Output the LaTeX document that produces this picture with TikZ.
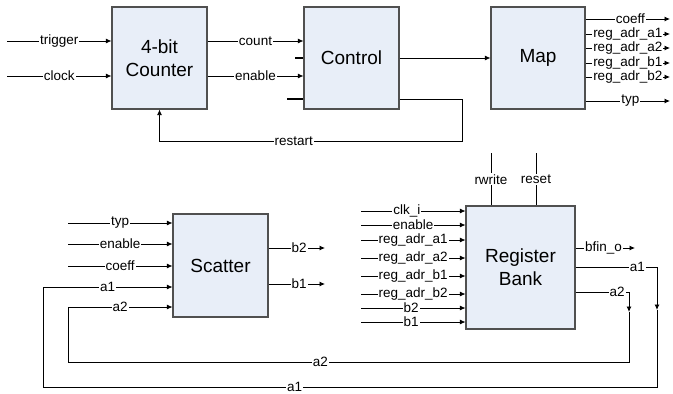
\documentclass[tikz,border=0pt]{standalone}
\usepackage{fontspec}
\setmainfont{Liberation Sans}
\usetikzlibrary{arrows.meta}

\tikzset{
  blocco/.style={draw={rgb,255:red,80;green,80;blue,80}, line width=1.1pt,
    fill={rgb,255:red,232;green,238;blue,248}, align=center, inner sep=0pt,
    font=\fontsize{19}{23}\selectfont},
  filo/.style={line width=0.8pt},
  sig/.style={filo, -{Latex[length=5.5pt,width=5pt]}},
  lbl/.style={fill=white, inner xsep=1pt, inner ysep=0pt,
    font=\fontsize{13.5}{14}\selectfont},
  stub/.style={line width=1.6pt}
}

\begin{document}
\begin{tikzpicture}[x=1pt,y=-1pt]

  \useasboundingbox (0,0) rectangle (673,394);

  % --- blocchi ---
  \node[blocco, minimum width=95pt, minimum height=102pt] (cnt) at (159.5,58) {4-bit\\Counter};
  \node[blocco, minimum width=95pt, minimum height=102pt] (ctl) at (351.5,58) {Control};
  \node[blocco, minimum width=94pt, minimum height=102pt] (map) at (538,58) {Map};
  \node[blocco, minimum width=95pt, minimum height=103pt] (sct) at (220.5,265.5) {Scatter};
  \node[blocco, minimum width=109pt, minimum height=123pt] (reg) at (520.5,267.5) {Register\\Bank};

  % --- counter ---
  \coordinate (trig) at (7,41);
  \coordinate (clk) at (7,76);
  \draw[sig] (trig) -- node[lbl]{trigger} (trig -| cnt.west);
  \draw[sig] (clk) -- node[lbl]{clock} (clk -| cnt.west);
  \draw[sig] (trig -| cnt.east) -- node[lbl]{count} (trig -| ctl.west);
  \draw[sig] (clk -| cnt.east) -- node[lbl]{enable} (clk -| ctl.west);

  % --- control ---
  \coordinate (st1) at (295,58);
  \coordinate (st2) at (287,99);
  \coordinate (rs) at (462,141);
  \draw[stub] (st1) -- (st1 -| ctl.west);
  \draw[stub] (st2) -- (st2 -| ctl.west);
  \draw[sig] (ctl.east) -- (map.west);
  \draw[sig] (st2 -| ctl.east) -| (rs) -- node[lbl,pos=0.556]{restart} (rs -| cnt.south) -- (cnt.south);

  % --- map ---
  \coordinate (mcoef) at (670,19);
  \coordinate (ma1) at (670,34);
  \coordinate (ma2) at (670,48);
  \coordinate (mb1) at (670,63);
  \coordinate (mb2) at (670,77);
  \coordinate (mtyp) at (670,101);
  \draw[sig] (mcoef -| map.east) -- node[lbl,pos=0.53]{coeff} (mcoef);
  \draw[sig] (ma1 -| map.east) -- node[lbl]{reg\_adr\_a1} (ma1);
  \draw[sig] (ma2 -| map.east) -- node[lbl]{reg\_adr\_a2} (ma2);
  \draw[sig] (mb1 -| map.east) -- node[lbl]{reg\_adr\_b1} (mb1);
  \draw[sig] (mb2 -| map.east) -- node[lbl]{reg\_adr\_b2} (mb2);
  \draw[sig] (mtyp -| map.east) -- node[lbl,pos=0.53]{typ} (mtyp);

  % --- scatter ---
  \coordinate (styp) at (68,223);
  \coordinate (senb) at (68,244);
  \coordinate (scoef) at (68,266);
  \coordinate (sb2) at (325,248);
  \coordinate (sb1) at (325,284);
  \draw[sig] (styp) -- node[lbl]{typ} (styp -| sct.west);
  \draw[sig] (senb) -- node[lbl]{enable} (senb -| sct.west);
  \draw[sig] (scoef) -- node[lbl]{coeff} (scoef -| sct.west);
  \draw[sig] (sb2 -| sct.east) -- node[lbl,pos=0.54]{b2} (sb2);
  \draw[sig] (sb1 -| sct.east) -- node[lbl,pos=0.54]{b1} (sb1);

  % --- register bank ---
  \coordinate (rw) at (491,153);
  \coordinate (rst) at (536,153);
  \draw[filo] (rw) -- node[lbl,inner ysep=1pt]{rwrite} (rw |- reg.north);
  \draw[filo] (rst) -- node[lbl,inner ysep=1pt]{reset} (rst |- reg.north);

  \coordinate (rclk) at (361,211);
  \coordinate (renb) at (361,225);
  \coordinate (ra1) at (361,240);
  \coordinate (ra2) at (361,258);
  \coordinate (rb1) at (361,276);
  \coordinate (rb2) at (361,294);
  \coordinate (rbb2) at (361,308);
  \coordinate (rbb1) at (361,322);
  \draw[sig] (rclk) -- node[lbl,pos=0.44]{clk\_i} (rclk -| reg.west);
  \draw[sig] (renb) -- node[lbl]{enable} (renb -| reg.west);
  \draw[sig] (ra1) -- node[lbl]{reg\_adr\_a1} (ra1 -| reg.west);
  \draw[sig] (ra2) -- node[lbl]{reg\_adr\_a2} (ra2 -| reg.west);
  \draw[sig] (rb1) -- node[lbl]{reg\_adr\_b1} (rb1 -| reg.west);
  \draw[sig] (rb2) -- node[lbl]{reg\_adr\_b2} (rb2 -| reg.west);
  \draw[sig] (rbb2) -- node[lbl,pos=0.48]{b2} (rbb2 -| reg.west);
  \draw[sig] (rbb1) -- node[lbl,pos=0.48]{b1} (rbb1 -| reg.west);

  \coordinate (bfin) at (635,248);
  \draw[sig] (bfin -| reg.east) -- node[lbl,pos=0.47]{bfin\_o} (bfin);

  % --- ritorno a1 ---
  \coordinate (a1r) at (657,267);
  \coordinate (a1m) at (657,310);
  \coordinate (a1b) at (657,387);
  \coordinate (a1l) at (43,387);
  \coordinate (a1s) at (43,287);
  \draw[sig] (a1r -| reg.east) -- node[lbl,pos=0.76]{a1} (a1r) -- (a1m);
  \draw[sig] (a1m) -- (a1b) -- node[lbl,pos=0.59]{a1} (a1l) -- (a1s) -- node[lbl]{a1} (a1s -| sct.west);

  % --- ritorno a2 ---
  \coordinate (a2r) at (629,292);
  \coordinate (a2m) at (629,312);
  \coordinate (a2b) at (629,362);
  \coordinate (a2l) at (68,362);
  \coordinate (a2s) at (68,307);
  \draw[sig] (a2r -| reg.east) -- node[lbl,pos=0.78]{a2} (a2r) -- (a2m);
  \draw[sig] (a2m) -- (a2b) -- node[lbl,pos=0.55]{a2} (a2l) -- (a2s) -- node[lbl]{a2} (a2s -| sct.west);

\end{tikzpicture}
\end{document}
